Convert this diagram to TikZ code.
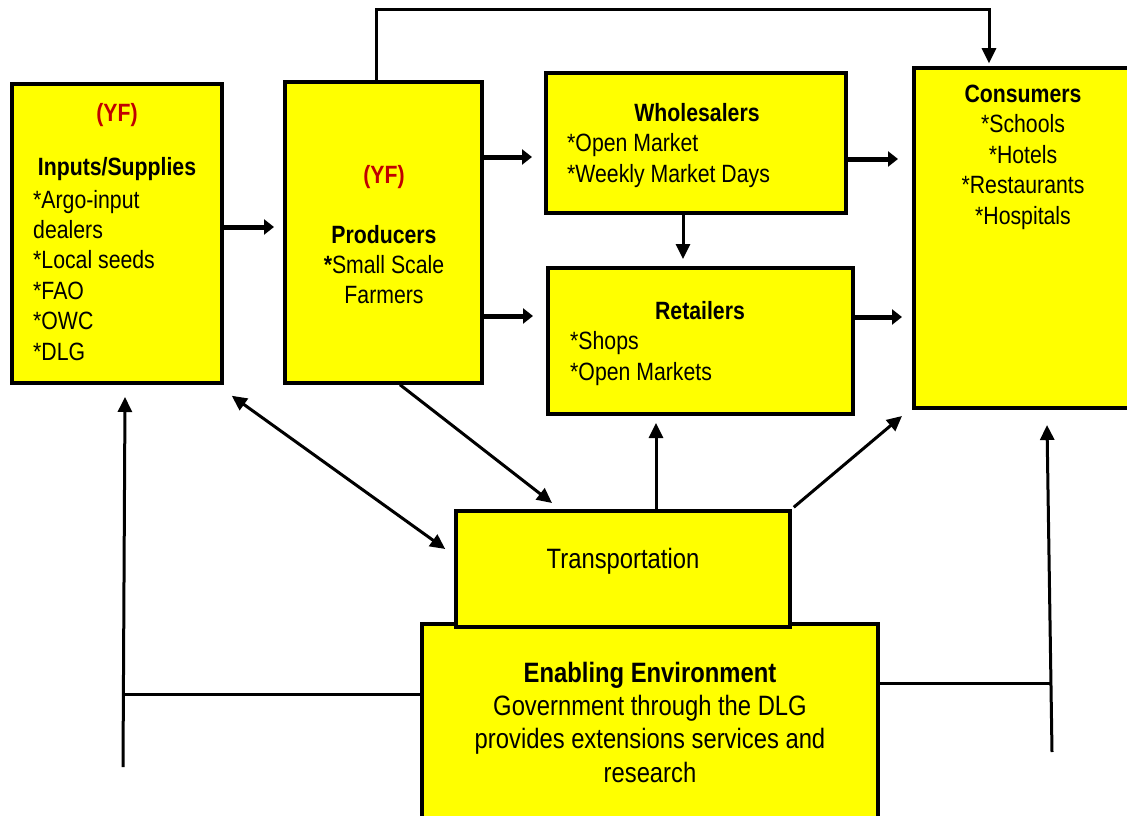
\documentclass[tikz,border=0pt]{standalone}
\usepackage{fontspec}
\setmainfont{Liberation Sans}[FakeStretch=0.85]
\usetikzlibrary{arrows.meta}
\definecolor{boxyellow}{HTML}{FFFF00}
\definecolor{yfred}{HTML}{C00000}
\begin{document}
\begin{tikzpicture}[x=1pt,y=-1pt,
  box/.style={draw=black, fill=boxyellow, line width=3.5pt, rectangle, inner sep=0pt},
  fat/.style={line width=5pt, -{Triangle[length=10pt,width=15pt]}},
  thinarr/.style={line width=3pt, -{Triangle[length=15pt,width=14pt]}},
  twoway/.style={line width=3pt, {Triangle[length=15pt,width=14pt]}-{Triangle[length=15pt,width=14pt]}},
  plainline/.style={line width=3pt},
  body/.style={font=\fontsize{25}{30.4}\selectfont, inner sep=0pt},
  bigbody/.style={font=\fontsize{28}{33.3}\selectfont, inner sep=0pt},
  yf/.style={body, font=\fontsize{25}{30.4}\selectfont\bfseries, text=yfred},
]
\useasboundingbox (0,0) rectangle (1127,816);

% boxes
\node[box, minimum width=210pt, minimum height=299pt] (inputs) at (117,233.5) {};
\node[box, minimum width=197pt, minimum height=301pt] (producers) at (383.5,232.5) {};
\node[box, minimum width=300pt, minimum height=140pt] (wholesalers) at (696,143) {};
\node[box, minimum width=305pt, minimum height=146pt] (retailers) at (700.5,341) {};
\node[box, minimum width=219pt, minimum height=340pt] (consumers) at (1023.5,238) {};
\node[box, minimum width=456pt, minimum height=216pt] (enabling) at (650,732) {};
\node[box, minimum width=334pt, minimum height=116pt] (transport) at (623,569) {};

% texts (multi-line nodes sit on the baseline of their last line)
\node[yf, anchor=base] (inputsyf) at (117,121) {(YF)};
\node[body, anchor=base, font=\fontsize{25}{30.4}\selectfont\bfseries] (inputshead) at (117,175) {Inputs/Supplies};
\node[body, anchor=base west, align=left] (inputslist) at (33,360)
  {*Argo-input\\dealers\\*Local seeds\\*FAO\\*OWC\\*DLG};

\node[yf, anchor=base] (producersyf) at (384,183) {(YF)};
\node[body, anchor=base, align=center, font=\fontsize{25}{30}\selectfont] (producerstext) at (384,303)
  {\textbf{Producers}\\\textbf{*}Small Scale\\Farmers};

\node[body, anchor=base, font=\fontsize{25}{30.4}\selectfont\bfseries] (wholesalershead) at (697,121) {Wholesalers};
\node[body, anchor=base west, align=left] (wholesalerslist) at (567,182)
  {*Open Market\\*Weekly Market Days};

\node[body, anchor=base, font=\fontsize{25}{30.4}\selectfont\bfseries] (retailershead) at (700,319) {Retailers};
\node[body, anchor=base west, align=left, font=\fontsize{25}{31}\selectfont] (retailerslist) at (570,380)
  {*Shops\\*Open Markets};

\node[body, anchor=base, align=center, font=\fontsize{25}{30.5}\selectfont] (consumerstext) at (1023,224)
  {\textbf{Consumers}\\*Schools\\*Hotels\\*Restaurants\\*Hospitals};

\node[bigbody, anchor=base] (transporttext) at (623,568) {Transportation};
\node[bigbody, anchor=base, align=center] (enablingtext) at (650,782)
  {\textbf{Enabling Environment}\\Government through the DLG\\provides extensions services and\\research};

% free ends of connectors
\coordinate (t1) at (274,227);
\coordinate (t2) at (532,157);
\coordinate (t3) at (533,316);
\coordinate (t4) at (898,159);
\coordinate (t5) at (902,317);
\coordinate (t6) at (683,259);
\coordinate (topc) at (989,10);
\coordinate (t8) at (552,503);
\coordinate (t10) at (656,423);
\coordinate (t11) at (902,416);
\coordinate (jl) at (124,694.5);
\coordinate (bl) at (123,767);
\coordinate (tl) at (125,397);
\coordinate (jr) at (1050,683);
\coordinate (br) at (1052,752);
\coordinate (tr) at (1047,425);

% flow arrows
\draw[fat] (inputs.east |- t1) -- (t1);
\draw[fat] (producers.east |- t2) -- (t2);
\draw[fat] (producers.east |- t3) -- (t3);
\draw[fat] (wholesalers.east |- t4) -- (t4);
\draw[fat] (retailers.east |- t5) -- (t5);
\draw[thinarr] (wholesalers.south -| t6) -- (t6);
\draw[thinarr] ([xshift=-7.5pt]producers.north) |- (topc) -- ([yshift=3pt]consumers.north -| topc);

% transportation links
\draw[thinarr] ([xshift=16.5pt]producers.south) -- (t8);
\draw[twoway] ([shift={(8,11)}]inputs.south east) -- ([shift={(-9,-20)}]transport.west);
\draw[thinarr] (transport.north -| t10) -- (t10);
\draw[thinarr] ([xshift=2pt,yshift=2pt]transport.north east) -- (t11);

% enabling environment feedback
\draw[plainline] (enabling.west |- jl) -- (jl);
\draw[thinarr] (bl) -- (tl);
\draw[plainline] (enabling.east |- jr) -- (jr);
\draw[thinarr] (br) -- (tr);
\end{tikzpicture}
\end{document}
